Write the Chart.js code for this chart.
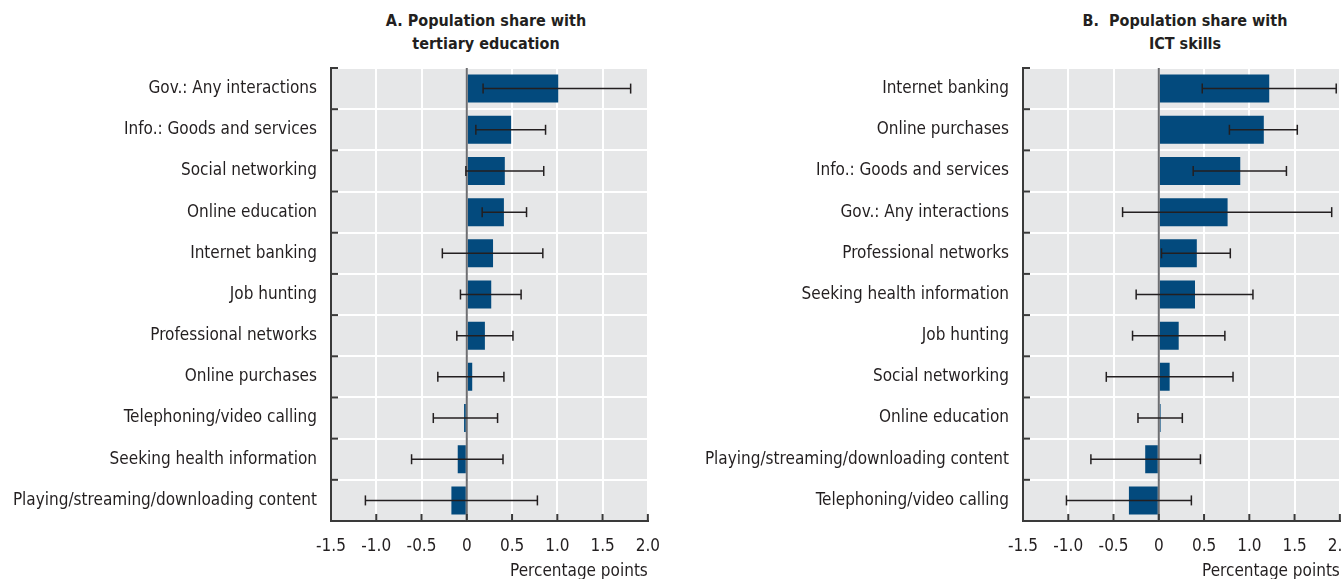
<!DOCTYPE html>
<html><head><meta charset="utf-8">
<script src="https://cdn.jsdelivr.net/npm/chart.js@4.4.1/dist/chart.umd.min.js"></script>
<style>
html,body{margin:0;padding:0;background:#fff;overflow:hidden;width:1341px;height:579px;position:relative;}
.wrap{position:absolute;top:0;height:579px;}
.title{position:absolute;font-family:'Liberation Sans Narrow','DejaVu Sans Condensed',sans-serif;font-weight:bold;font-size:16px;line-height:23px;color:#231f20;text-align:center;white-space:nowrap;transform:translateX(-50%);top:9px;}
</style></head><body>
<div class="title" style="left:486px">A. Population share with<br>tertiary education</div>
<div class="title" style="left:1185px">B.&nbsp; Population share with<br>ICT skills</div>
<div class="wrap" style="left:0;width:675px"><canvas id="cA" width="675" height="579"></canvas></div>
<div class="wrap" style="left:680px;width:687px"><canvas id="cB" width="687" height="579"></canvas></div>
<script>
const catsA = ['Gov.: Any interactions','Info.: Goods and services','Social networking','Online education','Internet banking','Job hunting','Professional networks','Online purchases','Telephoning/video calling','Seeking health information','Playing/streaming/downloading content'];
const valsA = [1.01,0.49,0.42,0.41,0.29,0.27,0.20,0.06,-0.03,-0.10,-0.17];
const loA = [0.18,0.10,-0.01,0.17,-0.27,-0.07,-0.11,-0.32,-0.37,-0.61,-1.12];
const hiA = [1.81,0.87,0.85,0.66,0.84,0.60,0.51,0.41,0.34,0.40,0.78];

const catsB = ['Internet banking','Online purchases','Info.: Goods and services','Gov.: Any interactions','Professional networks','Seeking health information','Job hunting','Social networking','Online education','Playing/streaming/downloading content','Telephoning/video calling'];
const valsB = [1.22,1.16,0.90,0.76,0.42,0.40,0.22,0.12,0.02,-0.15,-0.33];
const loB = [0.48,0.78,0.38,-0.40,0.03,-0.25,-0.29,-0.58,-0.23,-0.75,-1.02];
const hiB = [1.96,1.53,1.41,1.91,0.79,1.04,0.73,0.82,0.26,0.46,0.36];

const xMin = -1.5, xMax = 2.0, xStep = 0.5;
const axisTitle = 'Percentage points';

const FAM = "'Liberation Sans Narrow', 'DejaVu Sans Condensed', sans-serif";
const TXT = '#231f20';

const deco = {
  id: 'deco',
  beforeDraw(chart) {
    const {ctx, chartArea: a} = chart;
    ctx.save();
    ctx.fillStyle = '#e6e7e8';
    ctx.fillRect(a.left, a.top, a.right - a.left, a.bottom - a.top);
    ctx.restore();
  },
  afterDatasetsDraw(chart, args, opts) {
    const {ctx, chartArea: a, scales: {x, y}} = chart;
    const ln = (x1, y1, x2, y2) => { ctx.beginPath(); ctx.moveTo(x1, y1); ctx.lineTo(x2, y2); ctx.stroke(); };
    ctx.save();
    const x0 = x.getPixelForValue(0);
    ctx.strokeStyle = '#6d6e71'; ctx.lineWidth = 2;
    ln(x0, a.top, x0, a.bottom);
    ctx.strokeStyle = '#231f20'; ctx.lineWidth = 1.5;
    opts.lo.forEach((l, i) => {
      const yy = y.getPixelForValue(i);
      const xl = x.getPixelForValue(l), xh = x.getPixelForValue(opts.hi[i]);
      ln(xl, yy, xh, yy);
      ln(xl, yy - 5, xl, yy + 5);
      ln(xh, yy - 5, xh, yy + 5);
    });
    ctx.strokeStyle = '#3a3a3a'; ctx.lineWidth = 2;
    const n = y.ticks.length;
    const step = y.getPixelForValue(1) - y.getPixelForValue(0);
    for (let i = 0; i <= n; i++) {
      const by = y.getPixelForValue(i) - step / 2;
      ln(a.left, by, a.left + 7, by);
    }
    x.ticks.forEach(t => {
      const px = x.getPixelForValue(t.value);
      ln(px, a.bottom, px, a.bottom - 7);
    });
    ctx.restore();
  }
};

function makeChart(id, cats, vals, lo, hi, yWidth) {
  return new Chart(document.getElementById(id), {
    type: 'bar',
    data: { labels: cats, datasets: [{ data: vals, backgroundColor: '#034a7d', barPercentage: 0.68, categoryPercentage: 1.0 }] },
    options: {
      responsive: false, animation: false, indexAxis: 'y',
      layout: { padding: { top: 68, right: 20, left: 0, bottom: 0 } },
      plugins: { legend: { display: false }, tooltip: { enabled: false }, deco: { lo: lo, hi: hi } },
      scales: {
        x: {
          min: xMin, max: xMax,
          ticks: { stepSize: xStep, color: TXT, font: { family: FAM, size: 17 }, padding: 15, maxRotation: 0, autoSkip: false,
                   callback: v => v === 0 ? '0' : v.toFixed(1) },
          grid: { color: '#ffffff', lineWidth: 2, drawTicks: false },
          border: { display: true, color: '#3a3a3a', width: 2 },
          title: { display: true, text: axisTitle, align: 'end', color: TXT, font: { family: FAM, size: 17 }, padding: { top: 0, bottom: -3 } },
          afterFit: s => { s.height = 58; }
        },
        y: {
          ticks: { color: TXT, font: { family: FAM, size: 17 }, padding: 14, autoSkip: false },
          grid: { color: '#ffffff', lineWidth: 2, drawTicks: false, offset: true },
          border: { display: true, color: '#3a3a3a', width: 2 },
          afterFit: s => { s.width = yWidth; }
        }
      }
    },
    plugins: [deco]
  });
}
makeChart('cA', catsA, valsA, loA, hiA, 331);
makeChart('cB', catsB, valsB, loB, hiB, 343);
</script>
</body></html>
